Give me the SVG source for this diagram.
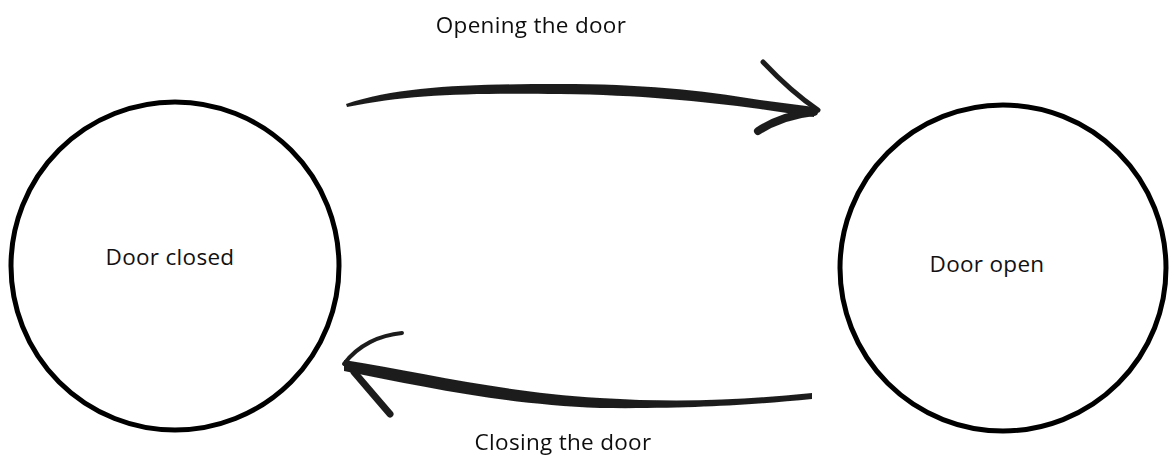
<svg xmlns="http://www.w3.org/2000/svg" width="1169" height="460" viewBox="0 0 1169 460">
<style>
.state{fill:#fff;stroke:#000;stroke-width:5}
.lbl{font-family:"Comic Sans MS","Open Sans","DejaVu Sans",sans-serif;font-size:22.5px;letter-spacing:0.3px;fill:#111}
.ink{fill:#1e1e1e}
.barb{fill:none;stroke:#1e1e1e;stroke-linecap:round}
</style>
<defs>
<filter id="soft" x="-5%" y="-20%" width="110%" height="140%"><feGaussianBlur stdDeviation="0.6"/></filter>
</defs>
<rect width="1169" height="460" fill="#fff"/>
<g id="connectors" filter="url(#soft)">
<g id="open-edge">
<path class="ink" d="M346,104 C400,86 470,84 560,84 C640,84 700,90 760,100 L814,107 L814,117 L760,109 C700,101 640,95 560,94 C470,93 410,94 347,107 Z"/>
<path class="barb" stroke-width="5" d="M763,62 C780,80 800,98 818,110"/>
<path class="barb" stroke-width="8" d="M758,131 C775,120 795,114 814,112"/>
</g>
<g id="close-edge">
<path class="ink" d="M344,360 C420,372 500,392 600,398 C680,403 740,400 812,393 L812,399 C760,404 700,409 600,408 C500,404 420,386 344,371 Z"/>
<path class="barb" stroke-width="4" d="M402,333 C380,335 358,345 344,364"/>
<path class="barb" stroke-width="7" d="M354,372 C365,385 378,400 390,414"/>
</g>
<text class="lbl" x="531" y="33" text-anchor="middle">Opening the door</text>
<text class="lbl" x="563" y="450" text-anchor="middle">Closing the door</text>
</g>
<g id="door-closed">
<circle class="state" cx="175" cy="266" r="164"/>
<text class="lbl" x="170" y="265" text-anchor="middle">Door closed</text>
</g>
<g id="door-open">
<circle class="state" cx="1003" cy="268" r="163"/>
<text class="lbl" x="987" y="272" text-anchor="middle">Door open</text>
</g>
</svg>
